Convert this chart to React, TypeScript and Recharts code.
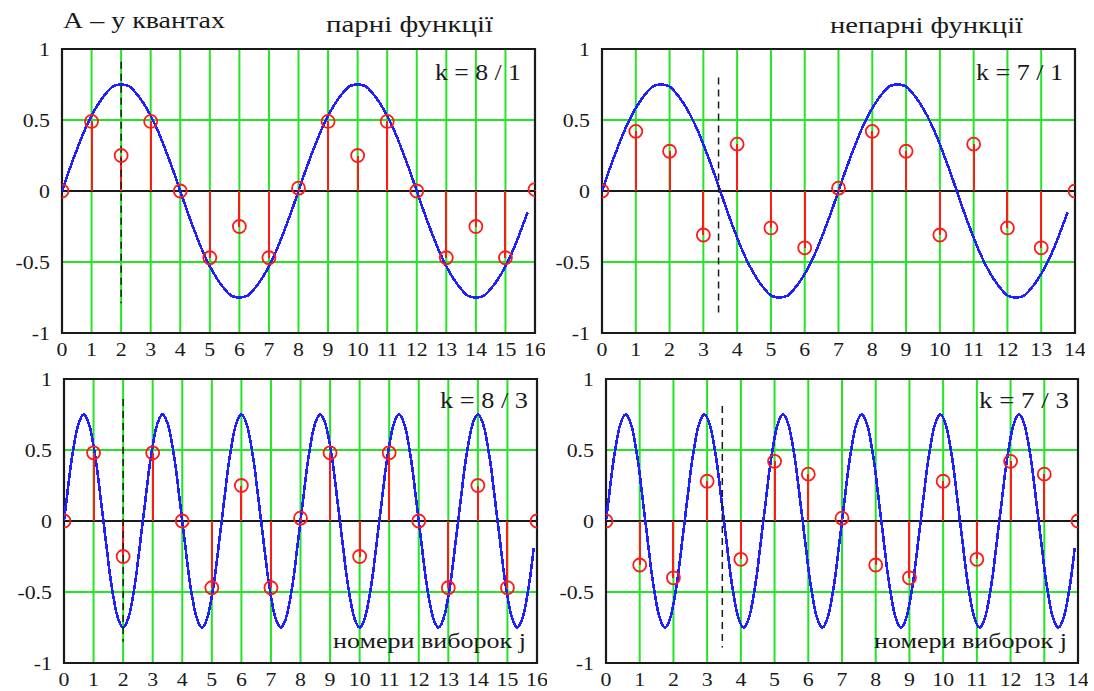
import React from 'react';
import { ComposedChart, XAxis, YAxis, CartesianGrid, Line, Scatter, ReferenceLine, ReferenceArea } from 'recharts';

// continuous signal, one value per curve step (2 periods for k = n/1, 6 periods for k = n/3)
const slowWave = [
    0, 0.15, 0.29, 0.42, 0.53, 0.62, 0.69, 0.74, 0.75, 0.74, 0.69, 0.62, 0.53, 0.42, 0.29, 0.15,
    0, -0.15, -0.29, -0.42, -0.53, -0.62, -0.69, -0.74, -0.75, -0.74, -0.69, -0.62, -0.53, -0.42, -0.29, -0.15,
    0, 0.15, 0.29, 0.42, 0.53, 0.62, 0.69, 0.74, 0.75, 0.74, 0.69, 0.62, 0.53, 0.42, 0.29, 0.15,
    0, -0.15, -0.29, -0.42, -0.53, -0.62, -0.69, -0.74, -0.75, -0.74, -0.69, -0.62, -0.53, -0.42, -0.29, -0.15,
];
const fastWave = [
    0, 0.19, 0.38, 0.53, 0.65, 0.72, 0.75, 0.72, 0.65, 0.53, 0.38, 0.19, 0, -0.19, -0.38, -0.53, -0.65, -0.72, -0.75, -0.72, -0.65, -0.53, -0.38, -0.19,
    0, 0.19, 0.38, 0.53, 0.65, 0.72, 0.75, 0.72, 0.65, 0.53, 0.38, 0.19, 0, -0.19, -0.38, -0.53, -0.65, -0.72, -0.75, -0.72, -0.65, -0.53, -0.38, -0.19,
    0, 0.19, 0.38, 0.53, 0.65, 0.72, 0.75, 0.72, 0.65, 0.53, 0.38, 0.19, 0, -0.19, -0.38, -0.53, -0.65, -0.72, -0.75, -0.72, -0.65, -0.53, -0.38, -0.19,
    0, 0.19, 0.38, 0.53, 0.65, 0.72, 0.75, 0.72, 0.65, 0.53, 0.38, 0.19, 0, -0.19, -0.38, -0.53, -0.65, -0.72, -0.75, -0.72, -0.65, -0.53, -0.38, -0.19,
    0, 0.19, 0.38, 0.53, 0.65, 0.72, 0.75, 0.72, 0.65, 0.53, 0.38, 0.19, 0, -0.19, -0.38, -0.53, -0.65, -0.72, -0.75, -0.72, -0.65, -0.53, -0.38, -0.19,
    0, 0.19, 0.38, 0.53, 0.65, 0.72, 0.75, 0.72, 0.65, 0.53, 0.38, 0.19, 0, -0.19, -0.38, -0.53, -0.65, -0.72, -0.75, -0.72, -0.65, -0.53, -0.38, -0.19,
];

// quantized samples, index = j
const samples81 = [0, 0.49, 0.25, 0.49, 0, -0.47, -0.25, -0.47, 0.02, 0.49, 0.25, 0.49, 0, -0.47, -0.25, -0.47, 0.01];
const samples71 = [0, 0.42, 0.28, -0.31, 0.33, -0.26, -0.4, 0.02, 0.42, 0.28, -0.31, 0.33, -0.26, -0.4, 0];
const samples83 = [0, 0.48, -0.25, 0.48, 0, -0.47, 0.25, -0.47, 0.02, 0.48, -0.25, 0.48, 0, -0.47, 0.25, -0.47, 0];
const samples73 = [0, -0.31, -0.4, 0.28, -0.27, 0.42, 0.33, 0.02, -0.31, -0.4, 0.28, -0.27, 0.42, 0.33, 0];

const yTicks = [-1, -0.5, 0, 0.5, 1];
const xTicks16 = [0, 1, 2, 3, 4, 5, 6, 7, 8, 9, 10, 11, 12, 13, 14, 15, 16];
const xTicks14 = [0, 1, 2, 3, 4, 5, 6, 7, 8, 9, 10, 11, 12, 13, 14];

// dashed marker: x, top, bottom
const marker81 = [2, 0.91, -0.79];
const marker71 = [3.45, 0.8, -0.87];
const marker83 = [2, 0.86, -0.85];
const marker73 = [3.45, 0.81, -0.89];

const GREEN = '#22e622';
const RED = '#ff1a1a';
const BLUE = '#1f1fff';
const INK = '#1a1a1a';
const FONT = '"Liberation Serif", "Times New Roman", serif';

const XTick = ({ x, y, payload }: any) => (
    <g transform={`translate(${x},${y})`}>
        <text transform="scale(1.15,1)" textAnchor="middle" dy={15} fontFamily={FONT} fontSize={19} fill={INK}>{payload.value}</text>
    </g>
);

const YTick = ({ x, y, payload }: any) => (
    <g transform={`translate(${x - 4},${y})`}>
        <text transform="scale(1.15,1)" textAnchor="end" dy={7} fontFamily={FONT} fontSize={19} fill={INK}>{payload.value}</text>
    </g>
);

const Ring = ({ cx, cy }: any) => <circle cx={cx} cy={cy} r={6.5} fill="none" stroke={RED} strokeWidth={1.8} />;

const Panel = ({ left, top, plotW, plotH, ticks, samples, curve, step, marker }: any) => {
    const data = samples.map((v: number, j: number) => ({ j, v }));
    const line = curve.map((y: number, i: number) => ({ j: i * step, y }));
    const maxX = ticks[ticks.length - 1];
    return (
        <div style={{ position: 'absolute', left: left - 60, top: top - 10 }}>
            <ComposedChart width={plotW + 70} height={plotH + 45} data={data} margin={{ top: 10, right: 10, left: 0, bottom: 0 }}>
                <CartesianGrid stroke={GREEN} strokeWidth={2} />
                <XAxis dataKey="j" type="number" domain={[0, maxX]} ticks={ticks} interval={0} allowDataOverflow tickLine={false} axisLine={false} tick={<XTick />} height={35} />
                <YAxis type="number" domain={[-1, 1]} ticks={yTicks} interval={0} allowDataOverflow tickLine={false} axisLine={false} tick={<YTick />} width={60} />
                <ReferenceArea x1={0} x2={maxX} y1={-1} y2={1} fill="none" fillOpacity={0} stroke={INK} strokeWidth={2.2} />
                <ReferenceLine y={0} stroke={INK} strokeWidth={2} />
                <Line data={line} dataKey="y" type="monotone" stroke={BLUE} strokeWidth={2.6} dot={false} shapeRendering="crispEdges" isAnimationActive={false} />
                {data.map((d: any) => (
                    <ReferenceLine key={d.j} segment={[{ x: d.j, y: 0 }, { x: d.j, y: d.v }]} stroke={RED} strokeWidth={2} shapeRendering="crispEdges" />
                ))}
                <Scatter dataKey="v" shape={<Ring />} isAnimationActive={false} />
                <ReferenceLine segment={[{ x: marker[0], y: marker[1] }, { x: marker[0], y: marker[2] }]} stroke={INK} strokeWidth={1.5} strokeDasharray="7 5" />
            </ComposedChart>
        </div>
    );
};

const textStyle = { fontFamily: FONT, fill: INK };

export default function App() {
    return (
        <div style={{ position: 'absolute', left: 0, top: 0, width: 1094, height: 691, background: '#fff', overflow: 'hidden' }}>
            <Panel left={62} top={49} plotW={473} plotH={284} ticks={xTicks16} samples={samples81} curve={slowWave} step={0.25} marker={marker81} />
            <Panel left={602} top={49} plotW={473} plotH={284} ticks={xTicks14} samples={samples71} curve={slowWave} step={7 / 32} marker={marker71} />
            <Panel left={64} top={379} plotW={473} plotH={284} ticks={xTicks16} samples={samples83} curve={fastWave} step={1 / 9} marker={marker83} />
            <Panel left={606} top={379} plotW={472} plotH={284} ticks={xTicks14} samples={samples73} curve={fastWave} step={7 / 72} marker={marker73} />
            <svg width={1094} height={691} style={{ position: 'absolute', left: 0, top: 0, pointerEvents: 'none' }}>
                <text x={63} y={28} fontSize={24} textLength={162} lengthAdjust="spacingAndGlyphs" style={textStyle}>А – у квантах</text>
                <text x={326} y={32} fontSize={24} textLength={167} lengthAdjust="spacingAndGlyphs" style={textStyle}>парні функції</text>
                <text x={830} y={33} fontSize={24} textLength={193} lengthAdjust="spacingAndGlyphs" style={textStyle}>непарні функції</text>
                <text x={435} y={80} fontSize={23} textLength={86} lengthAdjust="spacingAndGlyphs" style={textStyle}>k = 8 / 1</text>
                <text x={976} y={80} fontSize={23} textLength={87} lengthAdjust="spacingAndGlyphs" style={textStyle}>k = 7 / 1</text>
                <text x={440} y={408} fontSize={23} textLength={88} lengthAdjust="spacingAndGlyphs" style={textStyle}>k = 8 / 3</text>
                <text x={979} y={408} fontSize={23} textLength={90} lengthAdjust="spacingAndGlyphs" style={textStyle}>k = 7 / 3</text>
                <text x={333} y={648} fontSize={20} textLength={193} lengthAdjust="spacingAndGlyphs" style={textStyle}>номери виборок j</text>
                <text x={874} y={648} fontSize={20} textLength={193} lengthAdjust="spacingAndGlyphs" style={textStyle}>номери виборок j</text>
            </svg>
        </div>
    );
}
